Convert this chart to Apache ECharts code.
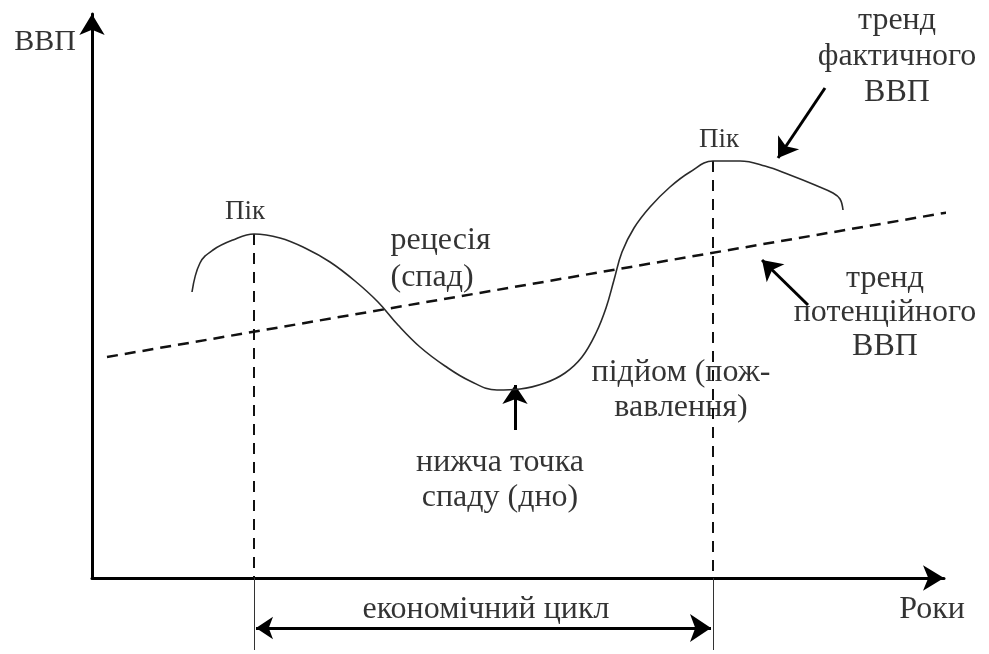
<!DOCTYPE html>
<html>
<head>
<meta charset="utf-8">
<title>Економічний цикл</title>
<script src="https://cdn.jsdelivr.net/npm/echarts@6/dist/echarts.min.js"></script>
<style>
    html, body { margin: 0; padding: 0; background: #fff; }
    #chart { width: 989px; height: 654px; }
</style>
</head>
<body>
<div id="chart"></div>
<script>
// фактичний ВВП (x - роки, y - ВВП, умовні одиниці)
var curveX = [25, 27, 30.25, 35.25, 40.5, 47, 53.25, 59.5, 65.75, 71.5, 76.5, 82, 88.25, 94.5, 101.25, 107, 113.25, 118.25,
    122.5, 126, 128.5, 130.5, 132.5, 135.5, 139.5, 144.5, 149.5, 155.25, 162, 168.25, 174.5, 180.75, 185.25, 187, 187.75];
var curveY = [71.5, 78.75, 82, 84.5, 86, 85, 82.5, 79, 74.25, 69, 63.25, 57.75, 53, 49.25, 47, 47.25, 48.75, 51.25,
    55.25, 61.25, 67.5, 74.5, 81.5, 87.5, 92.75, 97.75, 101.5, 104.25, 104.25, 103, 100.75, 98.25, 96.25, 94.75, 92];

// тренд потенційного ВВП
var trendX = [3.75, 214.5];
var trendY = [55.25, 91.5];

// піки циклу
var peakX = [40.5, 155.25];
var peakY = [86, 104.25];
var cycleY = -12.5;      // рівень стрілки "економічний цикл"
var guideBottom = -18;   // куди спускаються вертикалі під віссю

// стрілки-вказівники (звідки -> куди)
var pointerFrom = [[105.75, 37], [183.25, 122.5], [179, 68.25]];
var pointerTo = [[105.75, 48.25], [171.5, 105], [167.5, 79.5]];

// підписи
var labelText = ['ВВП', 'Роки', 'економічний цикл', 'Пік', 'Пік',
    'рецесія\n(спад)', 'нижча точка\nспаду (дно)', 'підйом (пож-\nвавлення)',
    'тренд\nфактичного\nВВП', 'тренд\nпотенційного\nВВП'];
var labelX = [-11.75, 210, 98.5, 38.25, 156.75, 74.5, 102, 147.25, 201.25, 198.25];
var labelY = [134, -8, -8, 91.5, 109.5, 79.75, 24.4, 46.9, 130.25, 66.25];

var FONT = '"Liberation Serif", "Times New Roman", serif';
var INK = '#000';

var chart = echarts.init(document.getElementById('chart'));

var curveData = curveX.map(function (x, i) { return [x, curveY[i]]; });
var trendData = trendX.map(function (x, i) { return [x, trendY[i]]; });

var guides = [], guidesBelow = [];
peakX.forEach(function (x, i) {
    guides.push({ coords: [[x, peakY[i]], [x, 0]] });
    guidesBelow.push({ coords: [[x, 0], [x, guideBottom]] });
});

var pointers = pointerFrom.map(function (p, i) {
    return { coords: [p, pointerTo[i]] };
});

var labels = labelText.map(function (t, i) {
    var item = {
        name: t,
        value: [labelX[i], labelY[i]],
        label: {}
    };
    if (i === 0) item.label.fontSize = 30;
    if (t === 'Пік') item.label.fontSize = 27;
    if (i === 5) {
        item.label.position = 'right';
        item.label.distance = 0;
        item.label.align = 'left';
        item.label.lineHeight = 37;
    }
    if (i === 6 || i === 7) item.label.lineHeight = 35;
    if (i === 8) item.label.lineHeight = 36;
    if (i === 9) item.label.lineHeight = 34;
    return item;
});

var axisCommon = {
    type: 'value',
    splitLine: { show: false },
    axisTick: { show: false },
    axisLabel: { show: false },
    axisLine: {
        show: true,
        onZero: false,
        symbol: ['none', 'arrow'],
        symbolSize: [19, 21],
        lineStyle: { color: '#000', width: 3 }
    }
};

var option = {
    animation: false,
    backgroundColor: '#fff',
    grid: {
        left: 92,
        right: 45,
        top: 14,
        bottom: 76
    },
    xAxis: Object.assign({}, axisCommon, { min: 0, max: 213 }),
    yAxis: Object.assign({}, axisCommon, { min: 0, max: 141 }),
    series: [
        {
            name: 'потенційний ВВП',
            type: 'line',
            data: trendData,
            clip: false,
            showSymbol: false,
            lineStyle: { color: '#111', width: 2.5, type: [11, 7] },
            silent: true
        },
        {
            name: 'фактичний ВВП',
            type: 'line',
            data: curveData,
            smooth: 0.4,
            clip: false,
            showSymbol: false,
            lineStyle: { color: '#2a2a2a', width: 1.6 },
            silent: true
        },
        {
            type: 'lines',
            coordinateSystem: 'cartesian2d',
            clip: false,
            silent: true,
            symbol: 'none',
            lineStyle: { color: '#111', width: 2, type: [11, 8], opacity: 1 },
            data: guides
        },
        {
            type: 'lines',
            coordinateSystem: 'cartesian2d',
            clip: false,
            silent: true,
            symbol: 'none',
            lineStyle: { color: '#333', width: 1, opacity: 1 },
            data: guidesBelow
        },
        {
            type: 'lines',
            coordinateSystem: 'cartesian2d',
            clip: false,
            silent: true,
            symbol: ['arrow', 'arrow'],
            symbolSize: [17, 21],
            lineStyle: { color: '#000', width: 3, opacity: 1 },
            data: [{ coords: [[peakX[0] + 0.5, cycleY], [peakX[1] - 0.5, cycleY]] }]
        },
        {
            type: 'lines',
            coordinateSystem: 'cartesian2d',
            clip: false,
            silent: true,
            symbol: ['none', 'arrow'],
            symbolSize: 19,
            lineStyle: { color: '#000', width: 3, opacity: 1 },
            data: pointers
        },
        {
            type: 'scatter',
            clip: false,
            silent: true,
            symbolSize: 1,
            itemStyle: { color: 'transparent' },
            label: {
                show: true,
                position: 'inside',
                formatter: '{b}',
                fontFamily: FONT,
                fontSize: 32,
                color: INK,
                textBorderWidth: 0,
                align: 'center',
                verticalAlign: 'middle'
            },
            data: labels
        }
    ]
};

chart.setOption(option);
</script>
</body>
</html>
